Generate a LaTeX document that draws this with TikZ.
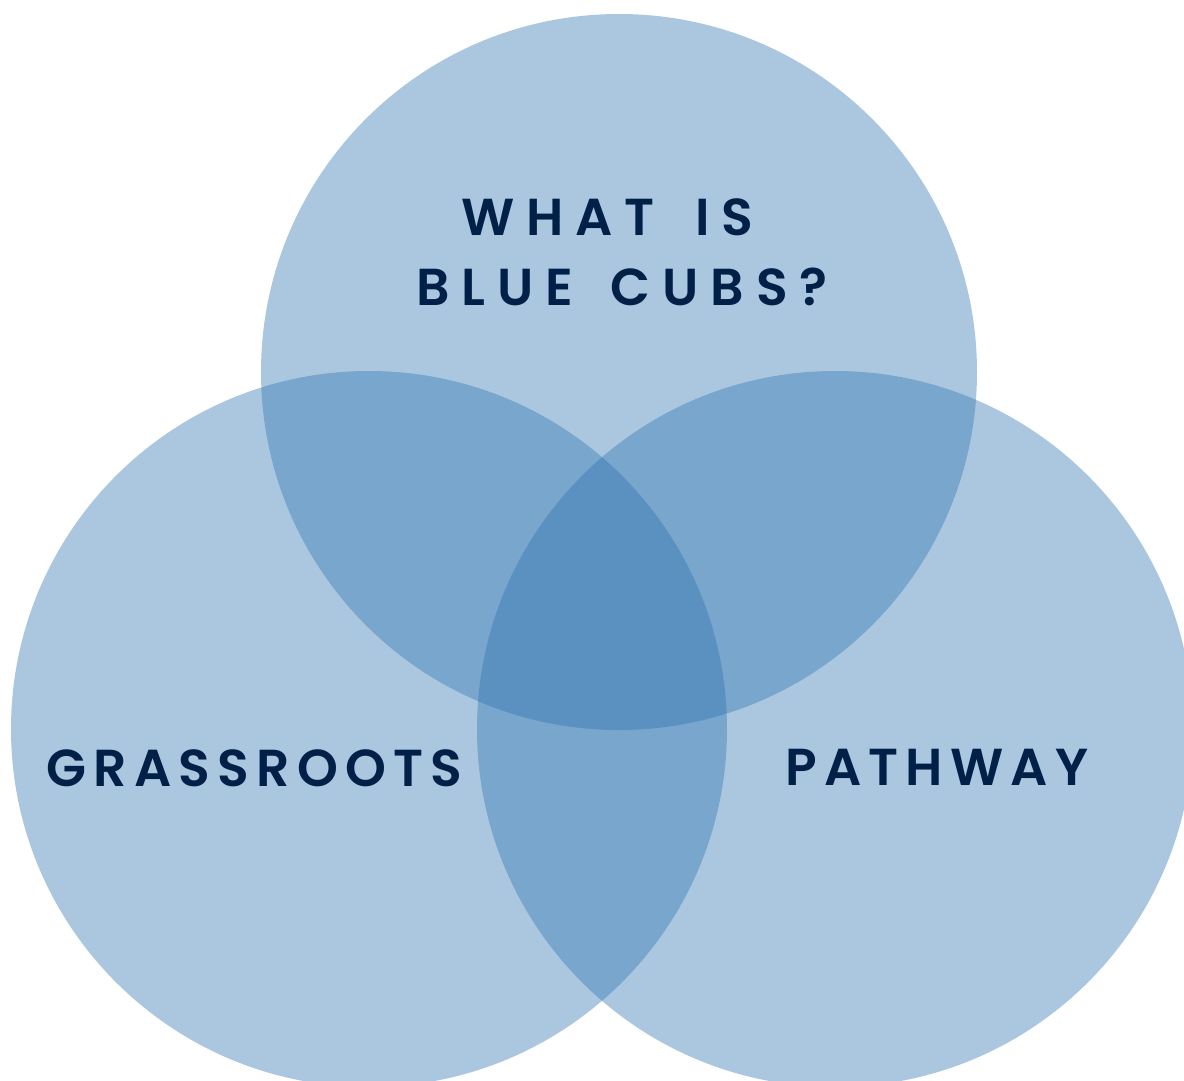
\documentclass[tikz,border=0pt]{standalone}
\usepackage{fontspec}
\newfontfamily\pop{Poppins SemiBold}[LetterSpace=14]
\newfontfamily\poptitle{Poppins SemiBold}[LetterSpace=23]
\definecolor{venn}{RGB}{45,115,175}
\definecolor{navy}{RGB}{0,32,72}
\newcommand{\wsp}[1]{ \hspace{#1}}
\begin{document}
\begin{tikzpicture}[x=1pt,y=-1pt,
  vcircle/.style={fill=venn,fill opacity=0.4,draw=none},
  label/.style={text=navy,font=\pop\fontsize{52}{70}\selectfont,inner sep=0pt,anchor=base west},
  title/.style={label,font=\poptitle\fontsize{52}{70}\selectfont}]
\useasboundingbox (0,0) rectangle (1184,1081);
\begin{scope}
\clip (0,0) rectangle (1184,1081);
\fill[vcircle] (619,372) circle[radius=358];
\fill[vcircle] (369,729) circle[radius=358];
\fill[vcircle] (835,729) circle[radius=358];
\end{scope}
\node[title] (whatis) at (461,235) {WHAT\wsp{16pt}IS};
\node[title] (bluecubs) at (416,305) {BLUE\wsp{13pt}CUBS?};
\node[label] (grass) at (46,786) {GRASSROOTS};
\node[label] (path) at (785,785) {PATHWAY};
\end{tikzpicture}
\end{document}
